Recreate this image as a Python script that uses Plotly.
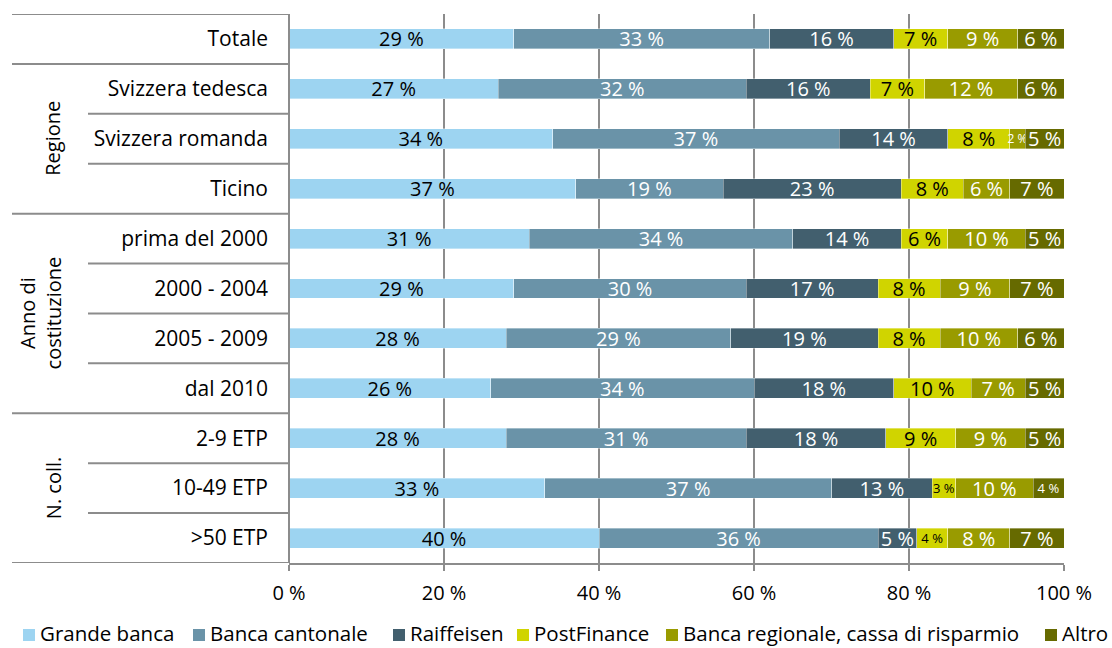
import plotly.graph_objects as go

categories = ["Totale", "Svizzera tedesca", "Svizzera romanda", "Ticino",
              "prima del 2000", "2000 - 2004", "2005 - 2009", "dal 2010",
              "2-9 ETP", "10-49 ETP", ">50 ETP"]

grande_banca = [29, 27, 34, 37, 31, 29, 28, 26, 28, 33, 40]
banca_cantonale = [33, 32, 37, 19, 34, 30, 29, 34, 31, 37, 36]
raiffeisen = [16, 16, 14, 23, 14, 17, 19, 18, 18, 13, 5]
postfinance = [7, 7, 8, 8, 6, 8, 8, 10, 9, 3, 4]
banca_regionale = [9, 12, 2, 6, 10, 9, 10, 7, 9, 10, 8]
altro = [6, 6, 5, 7, 5, 7, 6, 5, 5, 4, 7]

series = [
    ("Grande banca", grande_banca, "#9dd4f1", "black"),
    ("Banca cantonale", banca_cantonale, "#6a93a8", "white"),
    ("Raiffeisen", raiffeisen, "#425f6e", "white"),
    ("PostFinance", postfinance, "#d0d400", "black"),
    ("Banca regionale, cassa di risparmio", banca_regionale, "#999b00", "white"),
    ("Altro", altro, "#666a00", "white"),
]

# group title, first row, last row, horizontal centre (px)
groups = [("Regione", 1, 3, 53), ("Anno di<br>costituzione", 4, 7, 40), ("N. coll.", 8, 10, 53)]

FONT = "Open Sans"
GRID = "#8c8c8c"
W, H = 1112, 648
ML, MR, MT, MB = 289, 48, 14, 85
PW, PH = W - ML - MR, H - MT - MB


def px_x(x):
    return (x - ML) / PW


def px_y(y):
    return (H - MB - y) / PH


ypos = list(range(len(categories)))

fig = go.Figure()
for name, vals, color, tcol in series:
    sizes = [12 if v < 3 else (13 if v < 5 else 20) for v in vals]
    fig.add_trace(go.Bar(
        name=name, y=ypos, x=vals, orientation="h",
        marker=dict(color=color, line=dict(color="rgba(255,255,255,0.6)", width=0.6)),
        width=0.4,
        text=[f"{v}\u00a0%" for v in vals],
        textposition="inside", insidetextanchor="middle", textangle=0,
        constraintext="none",
        textfont=dict(color=tcol, size=sizes, family=FONT),
        hoverinfo="skip", showlegend=False,
    ))

shapes = []
# separators in the category label area
full = [-0.5, 0.5, 3.5, 7.5, 10.5]
short = [1.5, 2.5, 4.5, 5.5, 6.5, 8.5, 9.5]
for yb in full:
    shapes.append(dict(type="line", xref="paper", yref="y", x0=px_x(12), x1=0,
                       y0=yb, y1=yb, line=dict(color=GRID, width=2)))
for yb in short:
    shapes.append(dict(type="line", xref="paper", yref="y", x0=px_x(88), x1=0,
                       y0=yb, y1=yb, line=dict(color=GRID, width=2)))
shapes.append(dict(type="line", xref="paper", yref="y", x0=0, x1=0,
                   y0=-0.5, y1=10.5, line=dict(color=GRID, width=2)))

annotations = []
for label, a, b, cx in groups:
    annotations.append(dict(text=label, xref="paper", yref="y", x=px_x(cx), y=(a + b) / 2,
                            textangle=-90, showarrow=False,
                            font=dict(size=20, family=FONT, color="black"),
                            xanchor="center", yanchor="middle"))

# legend row: colour swatch followed by its label
legend_x = [23, 193, 393, 517, 666, 1045]
for (name, _, color, _), lx in zip(series, legend_x):
    shapes.append(dict(type="rect", xref="paper", yref="paper",
                       x0=px_x(lx), x1=px_x(lx + 12), y0=px_y(641), y1=px_y(629),
                       fillcolor=color, line=dict(width=0)))
    annotations.append(dict(text=name, xref="paper", yref="paper",
                            x=px_x(lx + 16), y=px_y(633), xanchor="left", yanchor="middle",
                            showarrow=False, borderpad=0,
                            font=dict(size=20.5, family=FONT, color="black")))

fig.update_layout(
    barmode="stack",
    width=W, height=H,
    margin=dict(l=ML, r=MR, t=MT, b=MB, autoexpand=False),
    paper_bgcolor="white", plot_bgcolor="white",
    font=dict(family=FONT, size=20, color="black"),
    showlegend=False,
    shapes=shapes,
    annotations=annotations,
    xaxis=dict(range=[0, 100], tickvals=[0, 20, 40, 60, 80, 100],
               ticktext=[f"{v}\u00a0%" for v in [0, 20, 40, 60, 80, 100]],
               showgrid=True, gridcolor=GRID, gridwidth=2,
               showline=True, linecolor=GRID, linewidth=2,
               ticks="outside", ticklen=6, tickcolor=GRID, tickwidth=2,
               zeroline=False, ticklabelstandoff=5, fixedrange=True,
               automargin=False),
    yaxis=dict(range=[10.5, -0.5], tickvals=ypos, ticktext=categories,
               tickfont=dict(size=21),
               showgrid=False, zeroline=False, showline=False, ticks="",
               ticklabelstandoff=20, fixedrange=True, automargin=False),
)

fig.write_html("out.html")
